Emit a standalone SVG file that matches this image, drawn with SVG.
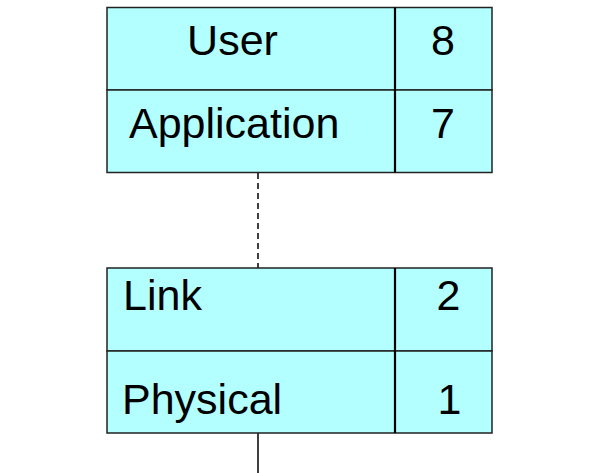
<svg xmlns="http://www.w3.org/2000/svg" width="593" height="473" viewBox="0 0 593 473">
  <style>
    .cell { fill: #b3ffff; stroke: #222; stroke-width: 1.5; }
    .div { stroke: #000; stroke-width: 2.2; }
    .lbl { font-family: "Liberation Sans", Arial, sans-serif; font-size: 43px; fill: #000; }
    .num { text-anchor: middle; }
    .conn { stroke: #000; stroke-width: 1.5; fill: none; }
  </style>
  <rect width="593" height="473" fill="#fff"/>
  <g id="connectors">
    <line class="conn" x1="258" y1="173" x2="258" y2="268" stroke-dasharray="6,4"/>
    <line class="conn" x1="258" y1="433" x2="258" y2="473"/>
  </g>
  <g id="upper-stack">
    <rect class="cell" x="107" y="7.5" width="385" height="82.5"/>
    <rect class="cell" x="107" y="90" width="385" height="82.5"/>
    <line class="div" x1="395" y1="7.5" x2="395" y2="172.5"/>
    <text class="lbl" x="232.5" y="55" text-anchor="middle">User</text>
    <text class="lbl num" x="443" y="55">8</text>
    <text class="lbl" x="129" y="137.5">Application</text>
    <text class="lbl num" x="443" y="137.5">7</text>
  </g>
  <g id="lower-stack">
    <rect class="cell" x="107" y="268" width="385" height="83"/>
    <rect class="cell" x="107" y="351" width="385" height="82"/>
    <line class="div" x1="395" y1="268" x2="395" y2="433"/>
    <text class="lbl" x="123" y="310">Link</text>
    <text class="lbl num" x="448.5" y="310">2</text>
    <text class="lbl" x="122" y="414">Physical</text>
    <text class="lbl num" x="449.5" y="414">1</text>
  </g>
</svg>
